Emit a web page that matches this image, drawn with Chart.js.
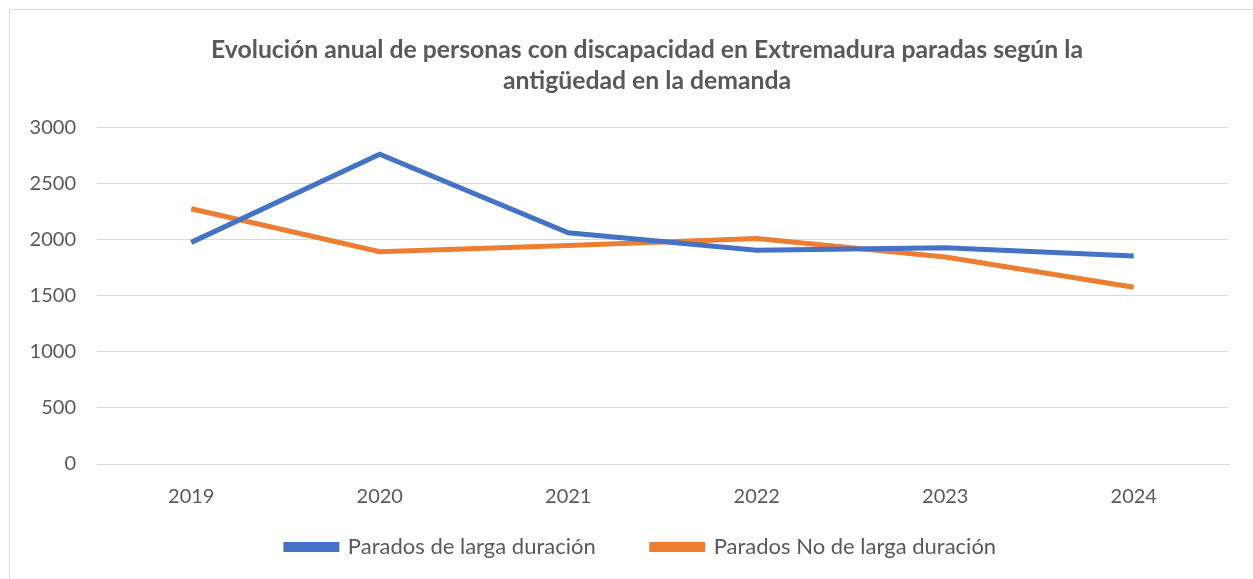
<!DOCTYPE html>
<html>
<head>
<meta charset="utf-8">
<script src="https://cdn.jsdelivr.net/npm/chart.js@4"></script>
<style>
  html, body { margin: 0; padding: 0; background: #fff; }
  #wrap { position: relative; width: 1253px; height: 579px; overflow: hidden; }
</style>
</head>
<body>
<div id="wrap"><canvas id="chart" width="1253" height="579"></canvas></div>
<script>
// data
const years      = ["2019", "2020", "2021", "2022", "2023", "2024"];
const largaDur   = [1978, 2765, 2063, 1908, 1930, 1857];
const noLargaDur = [2278, 1894, 1951, 2012, 1848, 1577];
const titleLines = [
  "Evolución anual de personas con discapacidad en Extremadura paradas según la",
  "antigüedad en la demanda"
];

const GRAY = "#595959";
const GRID = "#d9d9d9";
const FONT = "Lato, 'Open Sans', sans-serif";

// light frame around the chart, like the spreadsheet chart box
const framePlugin = {
  id: "frame",
  beforeDraw(chart) {
    const c = chart.ctx;
    c.save();
    c.fillStyle = "#fff";
    c.fillRect(0, 0, chart.width, chart.height);
    c.strokeStyle = GRID;
    c.lineWidth = 1;
    c.strokeRect(9.5, 9.5, chart.width + 20, chart.height + 20);
    c.restore();
  }
};

// nudge title and legend so they sit where the spreadsheet puts them
const nudgePlugin = {
  id: "nudge",
  afterLayout(chart) {
    const lg = chart.legend;
    lg.top = 480; lg.bottom = chart.height;
    lg.left += 22; lg.right += 22;
    const tb = chart.titleBlock;
    tb.left += 28; tb.right += 28;
  }
};

new Chart(document.getElementById("chart").getContext("2d"), {
  type: "line",
  data: {
    labels: years,
    datasets: [
      { label: "Parados de larga duración", data: largaDur,
        borderColor: "#4472C4", backgroundColor: "#4472C4",
        borderWidth: 5, pointRadius: 0, tension: 0, borderCapStyle: "butt" },
      { label: "Parados No de larga duración", data: noLargaDur,
        borderColor: "#ED7D31", backgroundColor: "#ED7D31",
        borderWidth: 5, pointRadius: 0, tension: 0, borderCapStyle: "butt" }
    ]
  },
  options: {
    responsive: false,
    animation: false,
    layout: { padding: { left: 10, right: 25, top: 0, bottom: -39 } },
    plugins: {
      title: {
        display: true,
        text: titleLines,
        color: GRAY,
        font: { family: FONT, size: 24.75, weight: "bold", lineHeight: 1.25 },
        padding: { top: 35, bottom: 31 }
      },
      legend: {
        position: "bottom",
        labels: {
          color: GRAY,
          font: { family: FONT, size: 22 },
          boxWidth: 51,
          boxHeight: 5,
          padding: 56
        }
      },
      tooltip: { enabled: false }
    },
    scales: {
      x: {
        offset: true,
        grid: { display: false, drawTicks: false },
        border: { display: true, color: GRID, width: 1 },
        ticks: { color: GRAY, font: { family: FONT, size: 20 }, padding: 21 }
      },
      y: {
        min: 0,
        max: 3000,
        afterFit(scale) { scale.width = 87; },
        grid: { color: GRID, lineWidth: 1, drawTicks: false },
        border: { display: false },
        ticks: {
          stepSize: 500, color: GRAY, font: { family: FONT, size: 20 }, padding: 21,
          callback: v => String(v)
        }
      }
    }
  },
  plugins: [framePlugin, nudgePlugin]
});
</script>
</body>
</html>
